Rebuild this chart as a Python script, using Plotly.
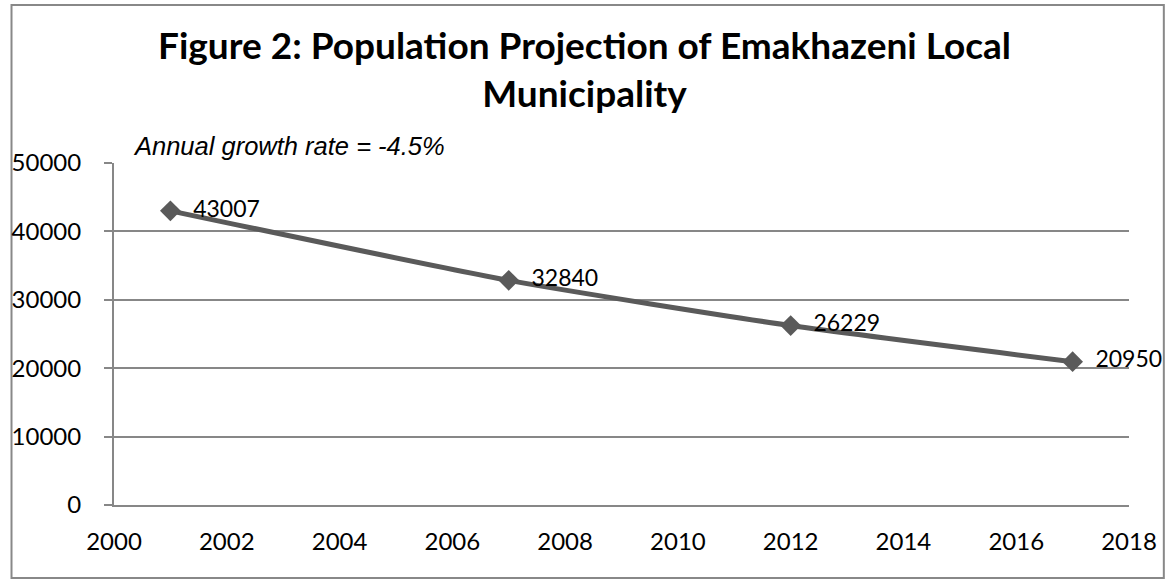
import plotly.graph_objects as go

years = [2001, 2007, 2012, 2017]
population = [43007, 32840, 26229, 20950]
labels = ["\u00a0\u00a0" + str(v) for v in population]
x_ticks = list(range(2000, 2019, 2))
y_ticks = list(range(0, 50001, 10000))

W, H = 1169, 581
L, R, T, B = 110, 39, 163, 76
pw, ph = W - L - R, H - T - B

def px_x(p):
    return (p - L) / pw

def px_y(p):
    return (H - B - p) / ph

fig = go.Figure()
fig.add_trace(go.Scatter(
    x=years, y=population, mode="lines+markers+text",
    line=dict(color="#5a5a5a", width=5, shape="spline", smoothing=0.6),
    marker=dict(symbol="diamond", size=16, color="#5a5a5a"),
    text=labels, textposition="middle right",
    textfont=dict(family="Lato, Calibri, sans-serif", size=23, color="#000"),
    cliponaxis=False, showlegend=False,
))

gray = "#878787"
fig.update_layout(
    width=W, height=H,
    margin=dict(l=L, r=R, t=T, b=B),
    paper_bgcolor="white", plot_bgcolor="white",
    title=dict(
        text="<b>Figure 2: Population Projection of Emakhazeni Local<br>Municipality</b>",
        x=0.5, xanchor="center", y=1 - 59 / H, yanchor="middle",
        font=dict(family="Lato, Calibri, sans-serif", size=37, color="#000"),
    ),
    xaxis=dict(
        range=[2000, 2018], tickvals=x_ticks, showgrid=False,
        showline=True, linecolor=gray, linewidth=2,
        ticks="", ticklabelstandoff=14,
        tickfont=dict(family="Lato, Calibri, sans-serif", size=24, color="#000"),
        zeroline=False, fixedrange=True,
    ),
    yaxis=dict(
        range=[0, 50000], tickvals=y_ticks, tickformat="d",
        showgrid=True, gridcolor=gray, gridwidth=1.5,
        showline=True, linecolor=gray, linewidth=2,
        ticks="outside", ticklen=8, tickcolor=gray, tickwidth=1.5,
        ticklabelstandoff=18,
        tickfont=dict(family="Lato, Calibri, sans-serif", size=24, color="#000"),
        zeroline=False, fixedrange=True,
    ),
    annotations=[dict(
        text="<i>Annual growth rate = -4.5%</i>", xref="paper", yref="paper",
        x=px_x(127), y=px_y(146), xanchor="left", yanchor="middle", showarrow=False,
        font=dict(family="Liberation Sans, Arial, sans-serif", size=25.5, color="#000"),
    )],
    shapes=[dict(
        type="rect", xref="paper", yref="paper",
        x0=px_x(7), x1=px_x(1165), y0=px_y(578), y1=px_y(5),
        line=dict(color="#888888", width=2), fillcolor="rgba(0,0,0,0)", layer="below",
    )],
)

fig.write_html(
    "out.html",
    config={"displayModeBar": False},
    post_script="document.body.style.margin='0';document.body.style.overflow='hidden';",
)
